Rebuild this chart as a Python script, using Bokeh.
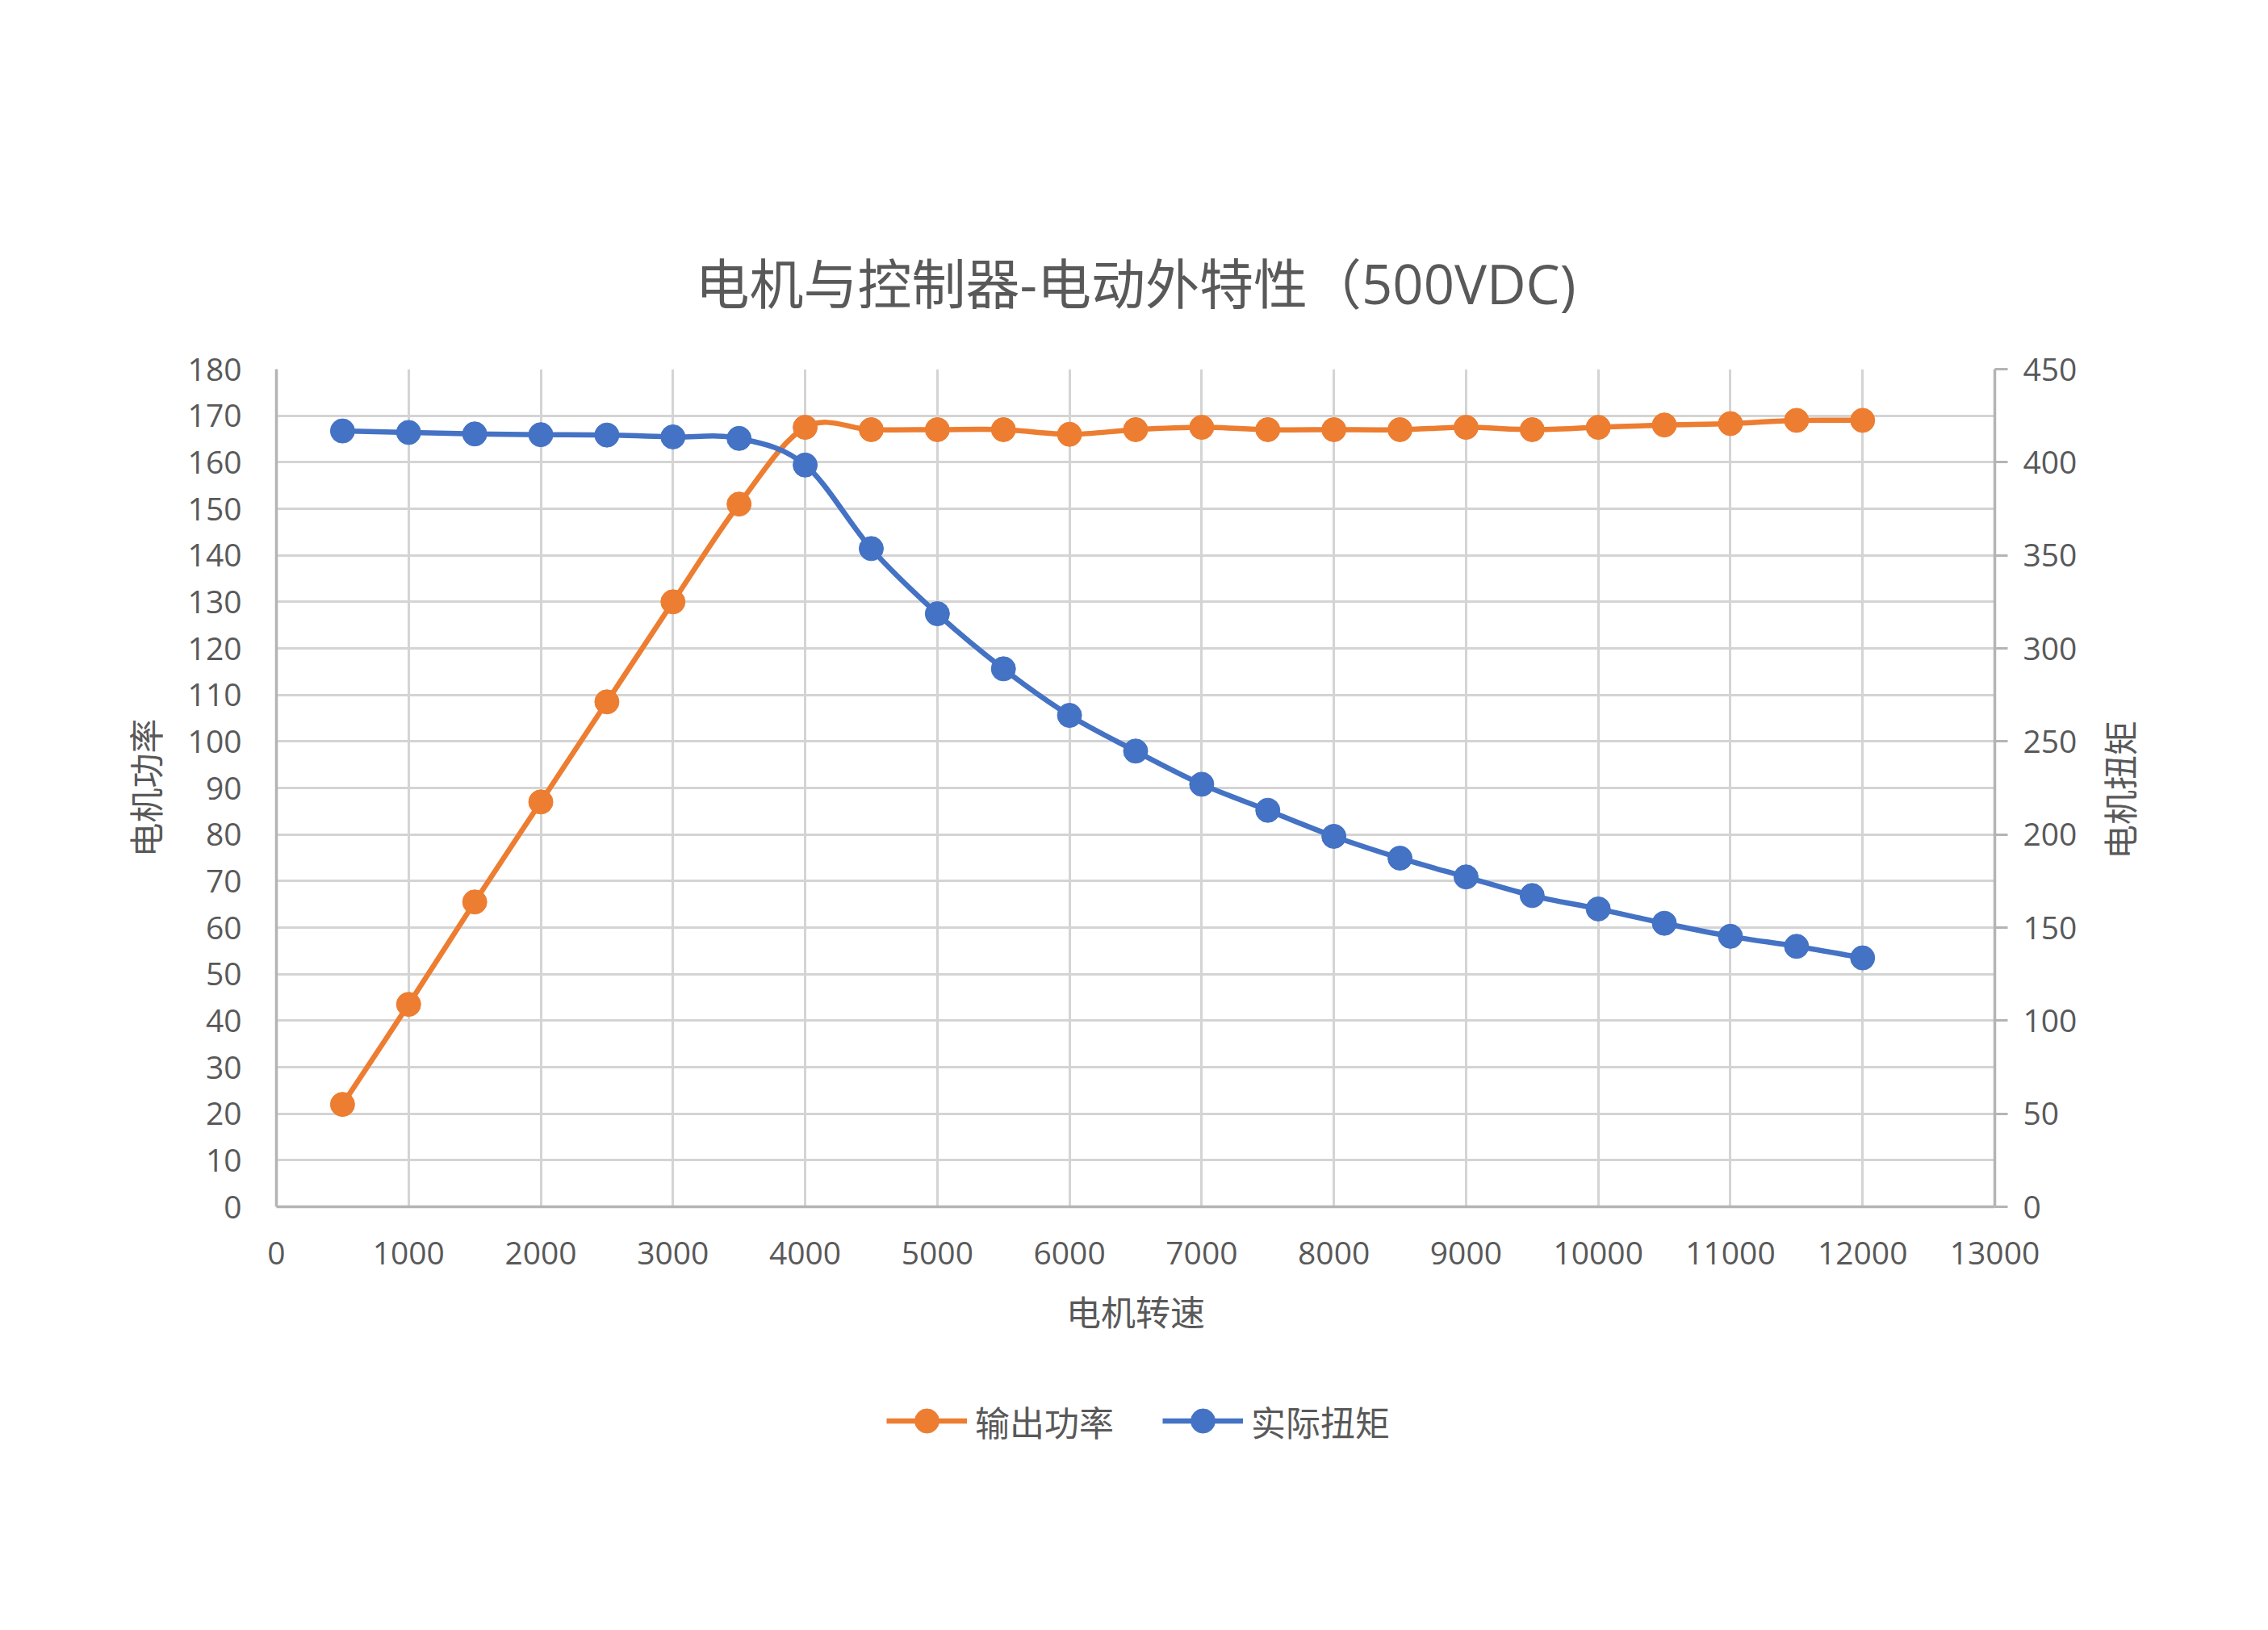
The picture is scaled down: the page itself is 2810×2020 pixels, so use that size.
import math
from bokeh.plotting import figure
from bokeh.layouts import column, row
from bokeh.models import (Range1d, LinearAxis, Legend, LegendItem, Title, Label,
                          ColumnDataSource, FixedTicker)
from bokeh.embed import file_html
from bokeh.resources import INLINE

# ---------------- data ----------------
speed = [500, 1000, 1500, 2000, 2500, 3000, 3500, 4000, 4500, 5000, 5500, 6000,
         6500, 7000, 7500, 8000, 8500, 9000, 9500, 10000, 10500, 11000, 11500, 12000]
power = [22.0, 43.5, 65.5, 87.0, 108.5, 130.0, 151.0, 167.5, 167.0, 167.0, 167.0, 166.0,
         167.0, 167.5, 167.0, 167.0, 167.0, 167.5, 167.0, 167.5, 168.0, 168.3, 169.0, 169.0]
torque = [416.8, 416.0, 415.2, 414.8, 414.6, 413.6, 412.8, 398.5, 353.6, 318.6, 289.0, 264.0,
          244.8, 227.0, 213.0, 199.0, 187.3, 177.2, 167.2, 160.0, 152.3, 145.3, 139.9, 133.7]
x_ticks = list(range(0, 13001, 1000))
power_ticks = list(range(0, 181, 10))
torque_ticks = list(range(0, 451, 50))

title_text = "电机与控制器-电动外特性（500VDC)"
x_label = "电机转速"
y_left_label = "电机功率"
y_right_label = "电机扭矩"
series_names = ["输出功率", "实际扭矩"]

ORANGE = "#ED7D31"
BLUE = "#4472C4"
TEXT = "#595959"
GRID = "#d4d4d4"
AXIS = "#b4b4b4"
FONT = "'Open Sans', 'Noto Sans CJK SC', sans-serif"
CJK = "'Noto Sans CJK SC', 'Open Sans', sans-serif"


def smooth_segments(xs, ys):
    """Bezier control points (Excel-like smoothing) for each data segment."""
    n = len(xs)
    d = dict(x0=[], y0=[], x1=[], y1=[], cx0=[], cy0=[], cx1=[], cy1=[])
    for i in range(n - 1):
        a = max(i - 1, 0)
        b = min(i + 2, n - 1)
        d["x0"].append(xs[i]); d["y0"].append(ys[i])
        d["x1"].append(xs[i + 1]); d["y1"].append(ys[i + 1])
        d["cx0"].append(xs[i] + (xs[i + 1] - xs[a]) / 6.0)
        d["cy0"].append(ys[i] + (ys[i + 1] - ys[a]) / 6.0)
        d["cx1"].append(xs[i + 1] - (xs[b] - xs[i]) / 6.0)
        d["cy1"].append(ys[i + 1] - (ys[b] - ys[i]) / 6.0)
    return ColumnDataSource(d)


pw_src = smooth_segments(speed, power)
tq_src = smooth_segments(speed, torque)

W = 2794
W_SIDE = 202
W_MAIN = W - W_SIDE
H_MAIN = 1710
H_LEG = 294
FRAME_L, FRAME_W, FRAME_T, FRAME_H = 342, 2129, 457, 1038

p = figure(width=W_MAIN, height=H_MAIN, output_backend="svg", toolbar_location=None,
           x_range=Range1d(0, 13000), y_range=Range1d(0, 180),
           min_border_left=FRAME_L, min_border_right=W_MAIN - FRAME_L - FRAME_W,
           min_border_top=FRAME_T, min_border_bottom=H_MAIN - FRAME_T - FRAME_H)
p.outline_line_color = None
p.background_fill_color = "white"
p.border_fill_color = "white"
p.extra_y_ranges = {"torque": Range1d(0, 450)}

# title
title = Title(text=title_text, align="center", text_font=FONT,
              text_font_size="67px", text_font_style="normal", text_color=TEXT)
if "standoff" in title.properties():
    title.standoff = 122
p.title = title

# grids
p.xgrid.ticker = FixedTicker(ticks=x_ticks)
p.ygrid.ticker = FixedTicker(ticks=power_ticks)
for g in (p.xgrid[0], p.ygrid[0]):
    g.grid_line_color = GRID
    g.grid_line_width = 3

# left / bottom axes
xa = p.xaxis[0]
ya = p.yaxis[0]
xa.ticker = FixedTicker(ticks=x_ticks)
ya.ticker = FixedTicker(ticks=power_ticks)
xa.axis_label = x_label
ya.axis_label = y_left_label
for ax in (xa, ya):
    ax.axis_line_color = AXIS
    ax.axis_line_width = 3.5
    ax.major_tick_out = 0
    ax.major_tick_in = 0
    ax.minor_tick_out = 0
    ax.minor_tick_in = 0
    ax.major_label_text_font = FONT
    ax.major_label_text_font_size = "39px"
    ax.major_label_text_color = TEXT
    ax.axis_label_text_font = CJK
    ax.axis_label_text_font_size = "43px"
    ax.axis_label_text_font_style = "normal"
    ax.axis_label_text_color = TEXT
xa.major_label_standoff = 43
xa.axis_label_standoff = 23
ya.major_label_standoff = 43
ya.axis_label_standoff = 20

# right axis (torque) : ticks and numbers
ra = LinearAxis(y_range_name="torque", ticker=FixedTicker(ticks=torque_ticks))
ra.axis_line_color = AXIS
ra.axis_line_width = 3.5
ra.major_tick_line_color = AXIS
ra.major_tick_line_width = 3
ra.major_tick_out = 16
ra.major_tick_in = 0
ra.minor_tick_out = 0
ra.minor_tick_in = 0
ra.major_label_standoff = 19
ra.major_label_text_font = FONT
ra.major_label_text_font_size = "39px"
ra.major_label_text_color = TEXT
p.add_layout(ra, "right")

# series: smoothed lines + markers
LW = 6.5
MS = 30
p.bezier(x0="x0", y0="y0", x1="x1", y1="y1", cx0="cx0", cy0="cy0",
         cx1="cx1", cy1="cy1", source=pw_src, line_color=ORANGE, line_width=LW)
p.scatter(speed, power, size=MS, color=ORANGE, marker="circle")
p.bezier(x0="x0", y0="y0", x1="x1", y1="y1", cx0="cx0", cy0="cy0",
         cx1="cx1", cy1="cy1", source=tq_src, line_color=BLUE, line_width=LW,
         y_range_name="torque")
p.scatter(speed, torque, size=MS, color=BLUE, marker="circle", y_range_name="torque")

# ---------------- right-hand axis title (reads bottom-to-top) ----------------
sf = figure(width=W_SIDE, height=H_MAIN, output_backend="svg", toolbar_location=None,
            x_range=Range1d(0, W_SIDE), y_range=Range1d(0, H_MAIN),
            x_axis_location=None, y_axis_location=None,
            min_border_left=0, min_border_right=0, min_border_top=0, min_border_bottom=0)
sf.outline_line_color = None
sf.xgrid.visible = False
sf.ygrid.visible = False
sf.add_layout(Label(x=32, y=H_MAIN - (FRAME_T + FRAME_H / 2.0) + 117, text=y_right_label,
                    angle=math.pi / 2, text_align="center", text_baseline="middle",
                    text_font=CJK, text_font_size="43px", text_color=TEXT))

# ---------------- legend strip under the chart ----------------
lf = figure(width=W, height=H_LEG, output_backend="svg", toolbar_location=None,
            x_range=Range1d(0, 1), y_range=Range1d(0, 1),
            x_axis_location=None, y_axis_location=None,
            min_border_left=26, min_border_right=0, min_border_top=0, min_border_bottom=0)
lf.outline_line_color = None
lf.xgrid.visible = False
lf.ygrid.visible = False
lf.extra_y_ranges = {"torque": Range1d(0, 450)}
# legend keys: same series (they fall outside this strip's ranges, only the keys show)
k1 = lf.bezier(x0="x0", y0="y0", x1="x1", y1="y1", cx0="cx0", cy0="cy0",
               cx1="cx1", cy1="cy1", source=pw_src, line_color=ORANGE, line_width=LW)
k2 = lf.scatter(speed, power, size=MS, color=ORANGE, marker="circle")
k3 = lf.bezier(x0="x0", y0="y0", x1="x1", y1="y1", cx0="cx0", cy0="cy0",
               cx1="cx1", cy1="cy1", source=tq_src, line_color=BLUE, line_width=LW,
               y_range_name="torque")
k4 = lf.scatter(speed, torque, size=MS, color=BLUE, marker="circle", y_range_name="torque")

legend = Legend(items=[LegendItem(label=series_names[0], renderers=[k1, k2]),
                       LegendItem(label=series_names[1], renderers=[k3, k4])],
                orientation="horizontal", location="top_center",
                glyph_width=100, glyph_height=75, label_height=75,
                label_standoff=10, spacing=60, padding=0, margin=13,
                label_text_font=CJK, label_text_font_size="43px",
                label_text_color=TEXT, border_line_color=None,
                background_fill_alpha=0)
lf.add_layout(legend, "center")

layout = column(row(p, sf), lf)
open("out.html", "w").write(file_html(layout, INLINE))
